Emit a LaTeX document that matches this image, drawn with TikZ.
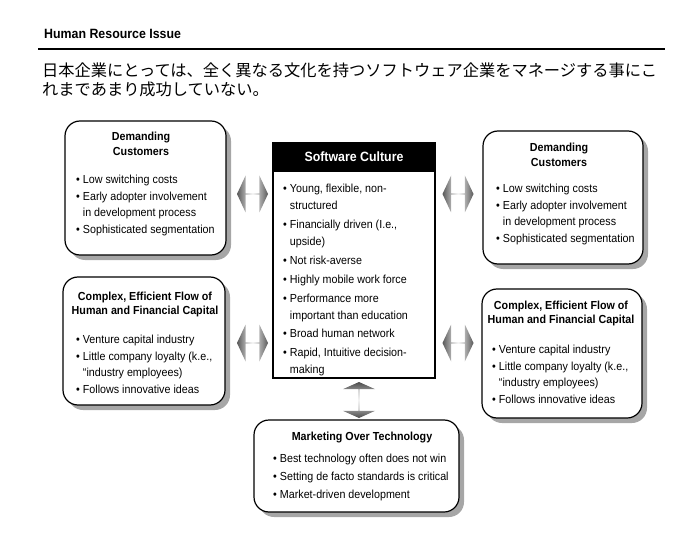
\documentclass[tikz,border=0pt]{standalone}
\usepackage{fontspec}
\setmainfont{Liberation Sans}[FakeStretch=0.92]
\newfontfamily\jfont{Noto Sans CJK JP}
\usetikzlibrary{shapes.arrows,shadows}
\newcommand{\bodyfont}{\fontsize{11.7}{16.7}\selectfont}
\newcommand{\hdfont}{\fontsize{11.7}{15.5}\selectfont\bfseries}
\newcommand{\ind}{\phantom{\textbullet\ }}
\colorlet{arrdark}{black!65}
\colorlet{arrlight}{gray!10}
\tikzset{
  rbox/.style={draw=black, line width=1.2bp, rounded corners=15bp, fill=white,
    drop shadow={shadow xshift=5bp, shadow yshift=-5bp, fill=gray!70, opacity=1},
    inner sep=0pt},
  txt/.style={inner sep=0pt, anchor=base west, font=\bodyfont},
  hd/.style={inner sep=0pt, anchor=base, font=\hdfont},
  harrow/.style={shape=double arrow, draw=none, inner sep=0pt,
    minimum height=31bp, minimum width=37bp, double arrow head extend=5bp,
    double arrow tip angle=130,
    left color=arrdark, right color=arrdark, middle color=arrlight},
  varrow/.style={shape=double arrow, draw=none, inner sep=0pt, shape border rotate=90,
    minimum height=36bp, minimum width=32bp, double arrow head extend=6.5bp,
    double arrow tip angle=132,
    top color=black!70, bottom color=black!70, middle color=gray!25},
}
\begin{document}
\begin{tikzpicture}[x=1bp,y=-1bp]
\useasboundingbox (0,0) rectangle (700,560);
% heading
\node[inner sep=0pt, anchor=base west, font=\fontsize{13.5}{15}\selectfont\bfseries] (title) at (44,38.5) {Human Resource Issue};
\coordinate (ruleL) at (38,49);
\coordinate (ruleR) at (665,49);
\draw[line width=1.2bp] (ruleL) -- (ruleR);
\node[inner sep=0pt, anchor=base west, font=\jfont\fontsize{16.3}{19}\selectfont] (jp1) at (42,77) {日本企業にとっては、全く異なる文化を持つソフトウェア企業をマネージする事にこ};
\node[inner sep=0pt, anchor=base west, font=\jfont\fontsize{16.3}{19}\selectfont] (jp2) at (42,96) {れまであまり成功していない。};

% left top box
\node[rbox, minimum width=161bp, minimum height=134bp] (lt) at (145.5,188) {};
\node[hd] (lth) at (141,140.5) {\begin{tabular}[t]{@{}c@{}}Demanding\\Customers\end{tabular}};
\node[txt] (ltl) at (76,183.5) {\begin{tabular}[t]{@{}l@{}}\textbullet\ Low switching costs\\\textbullet\ Early adopter involvement\\\ind in development process\\\textbullet\ Sophisticated segmentation\end{tabular}};

% right top box
\node[rbox, minimum width=160bp, minimum height=133bp] (rt) at (563,197.5) {};
\node[hd] (rth) at (559,151.5) {\begin{tabular}[t]{@{}c@{}}Demanding\\Customers\end{tabular}};
\node[txt] (rtl) at (496,192.5) {\begin{tabular}[t]{@{}l@{}}\textbullet\ Low switching costs\\\textbullet\ Early adopter involvement\\\ind in development process\\\textbullet\ Sophisticated segmentation\end{tabular}};

% left bottom box
\node[rbox, minimum width=162bp, minimum height=128bp] (lb) at (144,341) {};
\node[hd] (lbh) at (145,300.5) {\begin{tabular}[t]{@{}c@{}}Complex, Efficient Flow of\\[-1.5pt]Human and Financial Capital\end{tabular}};
\node[txt] (lbl) at (76,343.5) {\begin{tabular}[t]{@{}l@{}}\textbullet\ Venture capital industry\\\textbullet\ Little company loyalty (k.e.,\\\ind ``industry employees)\\\textbullet\ Follows innovative ideas\end{tabular}};

% right bottom box
\node[rbox, minimum width=160bp, minimum height=129bp] (rb) at (562,353.5) {};
\node[hd] (rbh) at (561,309.5) {\begin{tabular}[t]{@{}c@{}}Complex, Efficient Flow of\\[-1.5pt]Human and Financial Capital\end{tabular}};
\node[txt] (rbl) at (492,353.5) {\begin{tabular}[t]{@{}l@{}}\textbullet\ Venture capital industry\\\textbullet\ Little company loyalty (k.e.,\\\ind ``industry employees)\\\textbullet\ Follows innovative ideas\end{tabular}};

% center box
\node[draw=black, line width=1.2bp, fill=white, minimum width=162bp, minimum height=235bp, inner sep=0pt] (sc) at (354,260.5) {};
\node[fill=black, minimum width=162bp, minimum height=29bp, inner sep=0pt, anchor=north, text=white, font=\fontsize{13.5}{15}\selectfont\bfseries] (sch) at (sc.north) {Software Culture};
\node[txt, font=\fontsize{11.7}{17}\selectfont] (scl) at (283,192.5) {\begin{tabular}[t]{@{}l@{}}\textbullet\ Young, flexible, non-\\\ind structured\\[2pt]\textbullet\ Financially driven (I.e.,\\\ind upside)\\[2pt]\textbullet\ Not risk-averse\\[2pt]\textbullet\ Highly mobile work force\\[2pt]\textbullet\ Performance more\\\ind important than education\\[2pt]\textbullet\ Broad human network\\[2pt]\textbullet\ Rapid, Intuitive decision-\\\ind making\end{tabular}};

% bottom box
\node[rbox, minimum width=205bp, minimum height=92bp] (bt) at (356.5,466) {};
\node[hd] (bth) at (362,440.5) {Marketing Over Technology};
\node[txt, font=\fontsize{11.7}{18}\selectfont] (btl) at (273,462.5) {\begin{tabular}[t]{@{}l@{}}\textbullet\ Best technology often does not win\\\textbullet\ Setting de facto standards is critical\\\textbullet\ Market-driven development\end{tabular}};

% arrows
\node[harrow] (a1) at (252.5,194) {};
\node[harrow] (a2) at (458,194) {};
\node[harrow] (a3) at (252.5,343) {};
\node[harrow] (a4) at (458,343) {};
\node[varrow] (a5) at (359,400) {};
\end{tikzpicture}
\end{document}
